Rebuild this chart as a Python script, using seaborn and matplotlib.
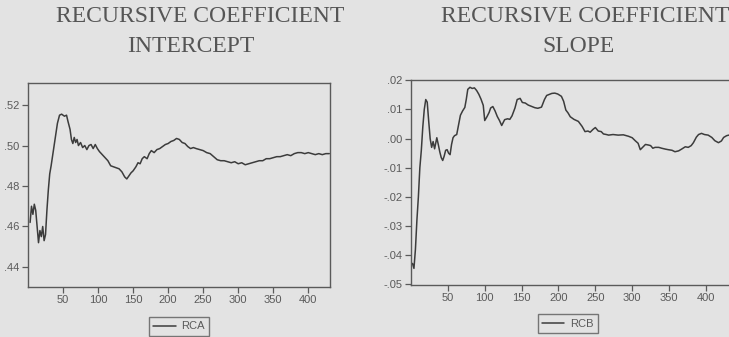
import pandas as pd
import matplotlib
matplotlib.use("Agg")
import matplotlib.pyplot as plt
from matplotlib.ticker import FuncFormatter
import seaborn as sns

# Recursive coefficient estimates read off the scanned EViews output
rca_obs = [3, 5, 7, 9, 11, 13, 15, 17, 19, 21, 23, 25, 27, 29, 31, 33, 36, 39, 42, 45,
           48, 50, 52, 55, 57, 60, 62, 64, 66, 68, 70, 72, 75, 78, 81, 84, 87, 90, 93, 96,
           99, 102, 106, 110, 114, 118, 122, 126, 130, 134, 138, 141, 144, 147, 150, 154,
           157, 160, 163, 166, 170, 173, 176, 180, 184, 188, 192, 196, 200, 204, 208, 212,
           216, 220, 224, 228, 232, 236, 240, 245, 250, 255, 260, 265, 270, 275, 280, 285,
           290, 295, 300, 305, 310, 315, 320, 325, 330, 335, 340, 345, 350, 355, 360, 365,
           370, 375, 380, 385, 390, 395, 400, 405, 410, 415, 420, 425, 430]
rca_val = [.462, .470, .466, .471, .468, .460, .452, .458, .455, .460, .453, .456, .468,
           .478, .486, .490, .497, .504, .511, .515, .5155, .515, .5145, .515, .512, .508,
           .503, .501, .504, .5015, .503, .500, .5015, .499, .500, .498, .500, .5005, .4985,
           .5005, .4985, .497, .4955, .494, .4925, .490, .4895, .489, .4885, .487, .4845,
           .4835, .485, .4865, .4875, .4895, .4915, .491, .4935, .4945, .4935, .496, .4975,
           .4965, .498, .4985, .4995, .5005, .501, .502, .5025, .5035, .503, .5015, .501,
           .4995, .4985, .499, .4985, .498, .4975, .4965, .496, .4945, .493, .4925, .4925,
           .492, .4915, .492, .491, .4915, .4905, .491, .4915, .492, .4925, .4925, .4935,
           .4935, .494, .4945, .4945, .495, .4955, .495, .496, .4965, .4965, .496, .4965,
           .496, .4955, .496, .4955, .496, .496]

rcb_obs = [2, 4, 6, 8, 10, 12, 14, 16, 18, 20,
           22, 24, 26, 28, 30, 32, 35, 37, 39, 41,
           43, 45, 47, 49, 51, 53, 55, 57, 59, 62,
           64, 67, 70, 73, 75, 77, 80, 83, 86, 89,
           92, 95, 98, 100, 103, 106, 108, 111, 114, 117,
           120, 123, 127, 131, 134, 137, 141, 144, 148, 151,
           155, 159, 164, 168, 172, 177, 181, 184, 188, 191,
           195, 199, 204, 207, 210, 213, 216, 221, 227, 232,
           236, 240, 243, 247, 250, 254, 258, 261, 265, 268,
           274, 281, 288, 295, 300, 304, 308, 311, 315, 318,
           322, 325, 328, 331, 336, 340, 345, 349, 354, 358,
           363, 367, 372, 376, 380, 383, 387, 390, 394, 398,
           403, 408, 412, 417, 421, 424, 428, 431]
rcb_val = [-.0428, -.0445, -.038, -.028, -.020, -.010, -.004, .004, .010, .0134,
           .0125, .006, .000, -.003, -.001, -.0035, .0003, -.002, -.0045, -.0065,
           -.0075, -.006, -.004, -.0038, -.005, -.0055, -.002, .0003, .001, .0014,
           .004, .008, .0095, .0107, .0135, .0169, .0176, .0172, .0174, .0165,
           .0152, .0135, .0114, .0062, .0075, .009, .0105, .011, .0095, .0076,
           .0062, .0045, .0065, .0068, .0066, .0078, .0105, .0134, .0138, .0124,
           .0122, .0115, .011, .0106, .0104, .0108, .0134, .0148, .0152, .0155,
           .0156, .0153, .0145, .0128, .0098, .0088, .0075, .0066, .0059, .0042,
           .0024, .0026, .0022, .0032, .0038, .0026, .0024, .0016, .0014, .0012,
           .0014, .0012, .0013, .0008, .0003, -.0007, -.0016, -.0038, -.0028, -.002,
           -.0022, -.0024, -.0033, -.003, -.003, -.0033, -.0036, -.0038, -.004, -.0045,
           -.0042, -.0036, -.0028, -.003, -.0024, -.0014, .0005, .0014, .0018, .0014,
           .0012, .0004, -.0007, -.0014, -.0008, .0004, .0010, .0012]

rca_df = pd.DataFrame({"obs": rca_obs, "value": rca_val})
rcb_df = pd.DataFrame({"obs": rcb_obs, "value": rcb_val})

xticks = [50, 100, 150, 200, 250, 300, 350, 400]
rca_yticks = [.44, .46, .48, .50, .52]
rcb_yticks = [-.05, -.04, -.03, -.02, -.01, .00, .01, .02]

sns.set_style("ticks")
plt.rcParams["font.family"] = ["Liberation Sans", "DejaVu Sans"]

paper = "#e3e3e3"
ink = "#3c3c3c"
grey = "#5a5a5a"


def strip_zero(v, pos):
    s = "%.2f" % v
    s = s.replace("0.", ".")
    if s == "-.00":
        s = ".00"
    return s


fig = plt.figure(figsize=(7.29, 3.37), dpi=100, facecolor=paper)

ax1 = fig.add_axes([28 / 729, 1 - 287 / 337, 302 / 729, 204 / 337])
ax2 = fig.add_axes([411 / 729, 1 - 285 / 337, 320 / 729, 205 / 337])

panels = [
    (ax1, rca_df, "RCA", rca_yticks, (0.4301, 0.5309), (0, 431), 0.5, -0.12),
    (ax2, rcb_df, "RCB", rcb_yticks, (-0.0502, 0.0201), (0, 434), 0.49, -0.115),
]

for ax, df, name, yt, ylim, xlim, lx, ly in panels:
    ax.set_facecolor(paper)
    sns.lineplot(data=df, x="obs", y="value", ax=ax, color=ink, linewidth=1.1, label=name)
    ax.set_xlim(*xlim)
    ax.set_ylim(*ylim)
    ax.set_xticks(xticks)
    ax.set_yticks(yt)
    ax.yaxis.set_major_formatter(FuncFormatter(strip_zero))
    ax.set_xlabel("")
    ax.set_ylabel("")
    for sp in ax.spines.values():
        sp.set_visible(True)
        sp.set_color(grey)
        sp.set_linewidth(1.0)
    ax.tick_params(axis="both", direction="out", length=4, width=0.9, color=grey,
                   labelcolor=grey, labelsize=8, pad=2)
    leg = ax.legend(loc="upper center", bbox_to_anchor=(lx, ly), frameon=True,
                    fancybox=False, handlelength=2.0, handletextpad=0.5,
                    borderpad=0.4, fontsize=8, facecolor=paper, edgecolor=grey)
    leg.get_frame().set_linewidth(1.0)
    for t in leg.get_texts():
        t.set_color(grey)

title_kw = dict(family=["Liberation Serif", "DejaVu Serif"], fontsize=17,
                color="#555555", ha="center", va="center")
fig.text(200 / 729, 1 - 17 / 337, "RECURSIVE COEFFICIENT", **title_kw)
fig.text(191 / 729, 1 - 46 / 337, "INTERCEPT", **title_kw)
fig.text(585 / 729, 1 - 17 / 337, "RECURSIVE COEFFICIENT", **title_kw)
fig.text(578 / 729, 1 - 46 / 337, "SLOPE", **title_kw)

fig.savefig("out.png", dpi=100, facecolor=paper)
